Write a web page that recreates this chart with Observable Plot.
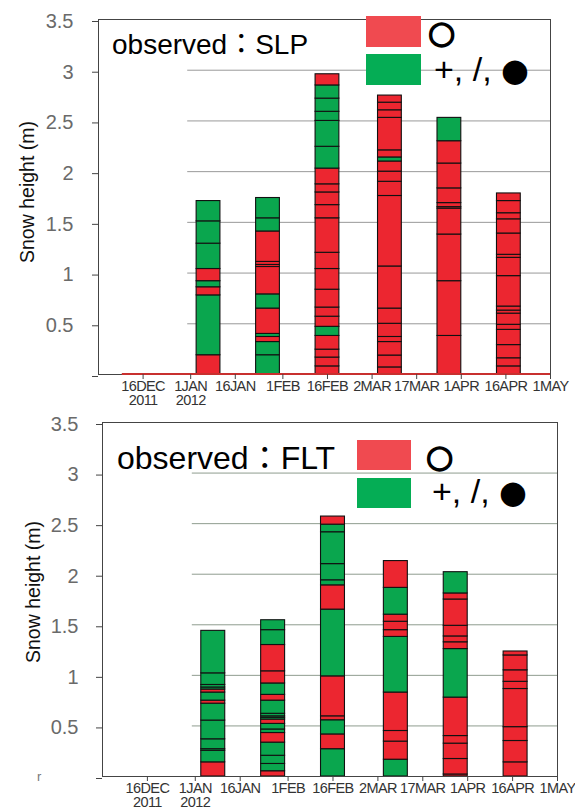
<!DOCTYPE html>
<html><head><meta charset="utf-8">
<script src="https://cdn.jsdelivr.net/npm/d3@7"></script>
<script src="https://cdn.jsdelivr.net/npm/@observablehq/plot@0.6"></script>
<style>
body{margin:0;background:#fff;}
#wrap{position:relative;width:575px;height:809px;overflow:hidden;font-family:"Liberation Sans",Arial,sans-serif;background:#fff;}
.panel{position:absolute;left:0;}
.panel svg{background:transparent !important;overflow:visible;}
.ylab{position:absolute;width:220px;text-align:center;font-size:19.5px;line-height:20px;color:#111;transform:rotate(-90deg);white-space:nowrap;}
.sw{position:absolute;}
.lt{position:absolute;white-space:nowrap;color:#000;line-height:1;font-family:"Liberation Sans","Noto Sans CJK JP",sans-serif;}
.sym{font-family:"DejaVu Sans",sans-serif;}
g[aria-label="y-axis tick label"] text{fill:#6a6a6a;}
g[aria-label="x-axis tick label"] text{fill:#333;letter-spacing:-0.6px;}
</style></head><body><div id="wrap"></div>
<script>
// ---- data ----
const obsDates = ["2012-01-07","2012-01-27","2012-02-16","2012-03-08","2012-03-28","2012-04-17"];
const xTickDates = ["2011-12-16","2012-01-01","2012-01-16","2012-02-01","2012-02-16","2012-03-02","2012-03-17","2012-04-01","2012-04-16","2012-05-01"];
const xTickLabels = ["16DEC\n2011","1JAN\n2012","16JAN","1FEB","16FEB","2MAR","17MAR","1APR","16APR","1MAY"];
const yTicks = [0,0.5,1,1.5,2,2.5,3,3.5];
const yTickLabels = ["","0.5","1","1.5","2","2.5","3","3.5"];
const gridLevels = [0.5,1,1.5,2,2.5,3];
const typeKeys = ["O","+"];          // R = "O" (red), G = "+, /, ●" (green)
const typeColors = ["#ec2630","#0aa64e"];

// observed: SLP — layer boundaries (m) bottom→top, and layer types
const slpBounds = [
  [0,0.19,0.78,0.86,0.92,1.04,1.29,1.51,1.71],
  [0,0.19,0.32,0.37,0.40,0.65,0.79,1.06,1.08,1.11,1.41,1.54,1.74],
  [0,0.08,0.167,0.245,0.38,0.47,0.57,0.66,0.836,1.04,1.20,1.54,1.67,1.795,1.875,2.03,2.245,2.50,2.59,2.72,2.85,2.96],
  [0,0.07,0.187,0.32,0.37,0.50,0.65,1.065,1.76,1.90,2.0,2.10,2.14,2.21,2.53,2.605,2.68,2.75],
  [0,0.38,0.92,1.38,1.635,1.65,1.69,1.835,2.08,2.30,2.53],
  [0,0.08,0.16,0.29,0.44,0.49,0.60,0.63,0.67,0.97,1.15,1.18,1.39,1.53,1.59,1.71,1.785]
];
const slpTypes = ["RGRGRGGG","GGRGRGRRRRGG","RRRRGRRRRRRRRRRGGGGGR","RRRRRRRRRRRGRRRRR","RRRRRRRRRG","RRRRRRRRRRRRRRRR"];

// observed: FLT
const fltBounds = [
  [0,0.14,0.254,0.27,0.368,0.553,0.72,0.75,0.83,0.86,0.88,0.905,1.02,1.44],
  [0,0.052,0.124,0.205,0.335,0.43,0.465,0.52,0.563,0.58,0.595,0.62,0.75,0.807,0.92,1.04,1.30,1.447,1.545],
  [0,0.27,0.416,0.556,0.595,0.99,1.65,1.89,1.94,2.10,2.415,2.49,2.57],
  [0,0.166,0.345,0.45,0.83,1.38,1.447,1.53,1.60,1.865,2.13],
  [0,0.02,0.173,0.325,0.40,0.78,1.26,1.327,1.385,1.49,1.75,1.81,2.02],
  [0,0.14,0.351,0.488,0.865,0.936,1.05,1.197,1.236]
];
const fltTypes = ["RGGGGGRGRGGGG","RGGGRGGRGGGGRGRRGG","GRGRRGRGGGGR","GRRRGRRRGR","RRRRRGRRRRRG","RRRRRRRR"];

// ---- build ----
const DAY = 864e5;
const parse = s => new Date(s + "T00:00:00Z");
function layers(bounds, types) {
  const out = [];
  bounds.forEach((b, i) => {
    const c = parse(obsDates[i]);
    for (let k = 0; k < b.length - 1; k++) {
      out.push({x1: new Date(+c - 4*DAY), x2: new Date(+c + 4*DAY), y1: b[k], y2: b[k+1], type: types[i][k] === "R" ? "O" : "+"});
    }
  });
  return out;
}
const tickMap = new Map(xTickDates.map((d, i) => [+parse(d), xTickLabels[i]]));

function panel({data, height, mt, mb, ml, mr, gridStroke, ground, pad}) {
  const marks = [
    Plot.ruleY(gridLevels, {x1: parse("2011-12-31"), x2: parse("2012-05-01"), stroke: gridStroke, strokeWidth: 1}),
    Plot.rect(data, {x1: "x1", x2: "x2", y1: "y1", y2: "y2", fill: "type", stroke: "#111", strokeWidth: 1.1}),
    Plot.frame({stroke: "#444", strokeWidth: 1})
  ];
  if (ground) marks.push(Plot.ruleY([0], {x1: parse("2011-12-09"), x2: parse("2012-05-01"), stroke: "#c8302f", strokeWidth: 2, dy: -0.5}));
  marks.push(
    Plot.axisY(yTicks, {tickSize: 6, tickPadding: pad, fontSize: 20, stroke: "#444", dy: 2,
      tickFormat: d => yTickLabels[yTicks.indexOf(d)]}),
    Plot.axisX(xTickDates.map(parse), {tickSize: 5, tickPadding: 1, fontSize: 14.5, lineHeight: 1.0, stroke: "#444",
      tickFormat: d => tickMap.get(+d)})
  );
  return Plot.plot({
    width: 575, height, marginTop: mt, marginBottom: mb, marginLeft: ml, marginRight: mr,
    style: {fontFamily: "'Liberation Sans', Arial, sans-serif", background: "transparent"},
    x: {type: "utc", domain: [parse("2011-12-01"), parse("2012-05-01")]},
    y: {domain: [0, 3.5]},
    color: {domain: typeKeys, range: typeColors},
    marks
  });
}

const wrap = document.getElementById("wrap");
function place(el, top) { const d = document.createElement("div"); d.className = "panel"; d.style.top = top + "px"; d.appendChild(el); wrap.appendChild(d); }

place(panel({data: layers(slpBounds, slpTypes), height: 405, mt: 19, mb: 31, ml: 98, mr: 25, gridStroke: "#999", ground: true, pad: 19}), 0);
place(panel({data: layers(fltBounds, fltTypes), height: 409, mt: 22, mb: 33, ml: 102, mr: 18, gridStroke: "#8f9c8f", ground: false, pad: 18}), 400);

function div(cls, css, html) { const d = document.createElement("div"); d.className = cls; d.style.cssText = css; d.innerHTML = html; wrap.appendChild(d); return d; }

// y-axis titles
div("ylab", "left:-83px;top:182px;", "Snow height (m)");
div("ylab", "left:-77px;top:582px;", "Snow height (m)");

// legends
const legRed = "#f04a50", legGreen = "#05ad55";
function legend(t, textLeft, fontSize, label, swLeft, swW, swTops, swH, symLeft) {
  div("lt", `left:${textLeft}px;top:${t.text}px;font-size:${fontSize}px;`, label);
  div("sw", `left:${swLeft}px;top:${swTops[0]}px;width:${swW}px;height:${swH}px;background:${legRed};`, "");
  div("sw", `left:${swLeft}px;top:${swTops[1]}px;width:${swW}px;height:${swH}px;background:${legGreen};`, "");
  div("lt sym", `left:${symLeft}px;top:${t.o}px;font-size:31px;-webkit-text-stroke:1.6px #000;`, "○");
  div("lt", `left:${symLeft+6}px;top:${t.p}px;font-size:34px;`, "+, /, <span class='sym' style='font-size:32px;position:relative;top:0px'>●</span>");
}
legend({text: 31, o: 17, p: 52}, 112, 28, "observed：SLP", 366, 55, [16, 54], 31, 428);
legend({text: 442, o: 441, p: 474}, 117, 32, "observed：FLT", 357, 54, [440, 478], 30, 426);

// stray glyph bottom-left
div("lt", "left:37px;top:770px;font-size:13px;color:#777;", "r");
</script></body></html>
